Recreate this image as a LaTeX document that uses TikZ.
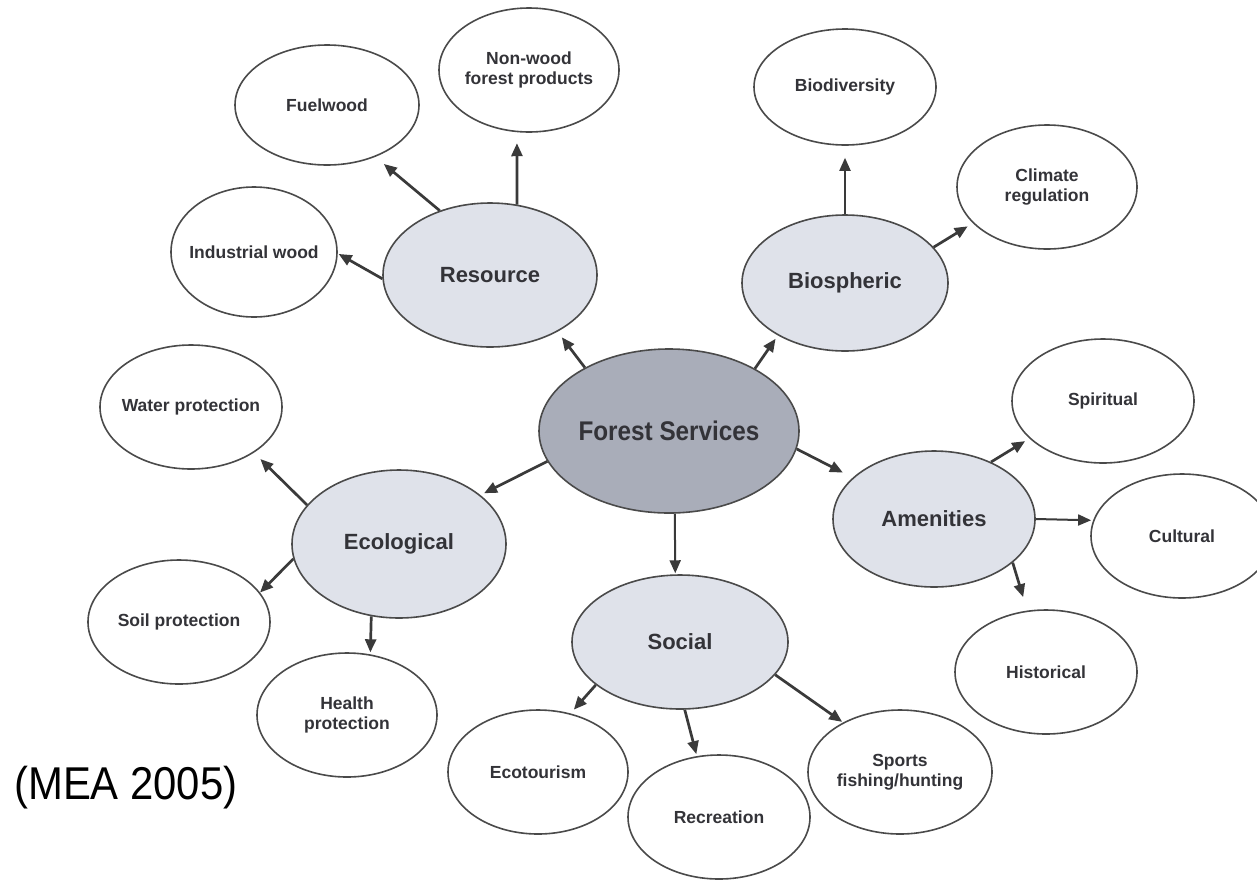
\documentclass[tikz,border=0pt]{standalone}
\usepackage{fontspec}
\setmainfont{Liberation Sans}
\usepackage{graphicx}
\usetikzlibrary{shapes.geometric,arrows.meta}
\definecolor{edge}{HTML}{4A4A4A}
\definecolor{ink}{HTML}{333338}
\definecolor{hubfill}{HTML}{A9ADB9}
\definecolor{midfill}{HTML}{DFE2EA}
\definecolor{arr}{HTML}{3A3A3A}
\tikzset{
  leaf/.style={ellipse, draw=edge, line width=1.6pt, fill=white, inner xsep=-25pt, inner ysep=-10pt, text=ink,
    font=\bfseries\fontsize{17.5}{20.5}\selectfont, align=center},
  mid/.style={leaf, fill=midfill, font=\bfseries\fontsize{22}{25}\selectfont},
  hub/.style={leaf, fill=hubfill, font=\bfseries\fontsize{27}{30}\selectfont},
  conn/.style={draw=arr, line width=2.7pt, -{Triangle[length=13pt,width=11pt]}},
  thinconn/.style={conn, line width=2pt},
}
\begin{document}
\begin{tikzpicture}[x=1pt,y=-1pt]
\useasboundingbox (0,0) rectangle (1257,879);
\clip (0,0) rectangle (1257,879);
\fill[white] (0,0) rectangle (1257,879);

% hub and categories
\node[hub, minimum width=260pt, minimum height=164pt] (fs) at (669,431) {\scalebox{0.9}[1]{Forest Services}};
\node[mid, minimum width=214pt, minimum height=144pt] (res) at (490,275) {Resource};
\node[mid, minimum width=206pt, minimum height=136pt] (bsp) at (845,283) {Biospheric};
\node[mid, minimum width=214pt, minimum height=148pt] (eco) at (399,544) {Ecological};
\node[mid, minimum width=202pt, minimum height=136pt] (ame) at (934,519) {Amenities};
\node[mid, minimum width=216pt, minimum height=134pt] (soc) at (680,642) {Social};

% leaves
\node[leaf, minimum width=184pt, minimum height=120pt] (fuel) at (327,105) {Fuelwood};
\node[leaf, minimum width=180pt, minimum height=124pt] (nwfp) at (529,70) {Non-wood\\forest products};
\node[leaf, minimum width=166pt, minimum height=130pt] (ind) at (254,252) {Industrial wood};
\node[leaf, minimum width=182pt, minimum height=116pt] (biod) at (845,87) {Biodiversity};
\node[leaf, minimum width=180pt, minimum height=124pt] (clim) at (1047,187) {Climate\\regulation};
\node[leaf, minimum width=182pt, minimum height=124pt] (water) at (191,407) {Water protection};
\node[leaf, minimum width=182pt, minimum height=124pt] (soil) at (179,622) {Soil protection};
\node[leaf, minimum width=180pt, minimum height=124pt] (health) at (347,715) {Health\\protection};
\node[leaf, minimum width=182pt, minimum height=124pt] (spir) at (1103,401) {Spiritual};
\node[leaf, minimum width=182pt, minimum height=124pt] (cult) at (1182,536) {Cultural};
\node[leaf, minimum width=182pt, minimum height=124pt] (hist) at (1046,672) {Historical};
\node[leaf, minimum width=180pt, minimum height=124pt] (ecot) at (538,772) {Ecotourism};
\node[leaf, minimum width=182pt, minimum height=124pt] (recr) at (719,817) {Recreation};
\node[leaf, minimum width=184pt, minimum height=124pt] (sport) at (900,772) {Sports\\fishing/hunting};

% citation
\node[anchor=base west, inner sep=0pt, font=\fontsize{46}{50}\selectfont] (mea) at (14,799) {\scalebox{0.91}[1]{(MEA 2005)}};

% connectors
\draw[conn, shorten >=7pt] (fs.143) -- (res.-40);
\draw[conn, shorten >=4pt] (fs.36) -- (bsp.218);
\draw[conn, shorten >=4pt] (fs.194) -- (eco.31);
\draw[conn, shorten >=11pt] (fs.-8) -- (ame.153);
\draw[thinconn, shorten >=1pt] (fs.-86) -- (soc.94);

\draw[conn, shorten >=11pt] (res.128) -- (fuel.-47);
\draw[conn, shorten >=11pt] (res.69) -- (nwfp.-101);
\draw[conn, shorten >=1pt] (res.182) -- (ind.-1);

\draw[thinconn, shorten >=12pt] (bsp.90) -- (biod.-90);
\draw[conn, shorten >=6pt] (bsp.22) -- (clim.206);

\draw[conn, shorten >=9pt] (eco.157) -- (water.-36);
\draw[conn, shorten >=0pt] (eco.188) -- (soil.20);
\draw[conn, shorten >=2pt] (eco.-111) -- (health.69);

\draw[conn, shorten >=5pt] (ame.45) -- (spir.207);
\draw[thinconn, shorten >=2pt] (ame.0) -- (cult.170);
\draw[conn, shorten >=14pt] (ame.-29) -- (hist.107);

\draw[conn, shorten >=5pt] (soc.207) -- (ecot.61);
\draw[conn, shorten >=2pt] (soc.-86) -- (recr.110);
\draw[conn, shorten >=1pt] (soc.-19) -- (sport.139);
\end{tikzpicture}
\end{document}
